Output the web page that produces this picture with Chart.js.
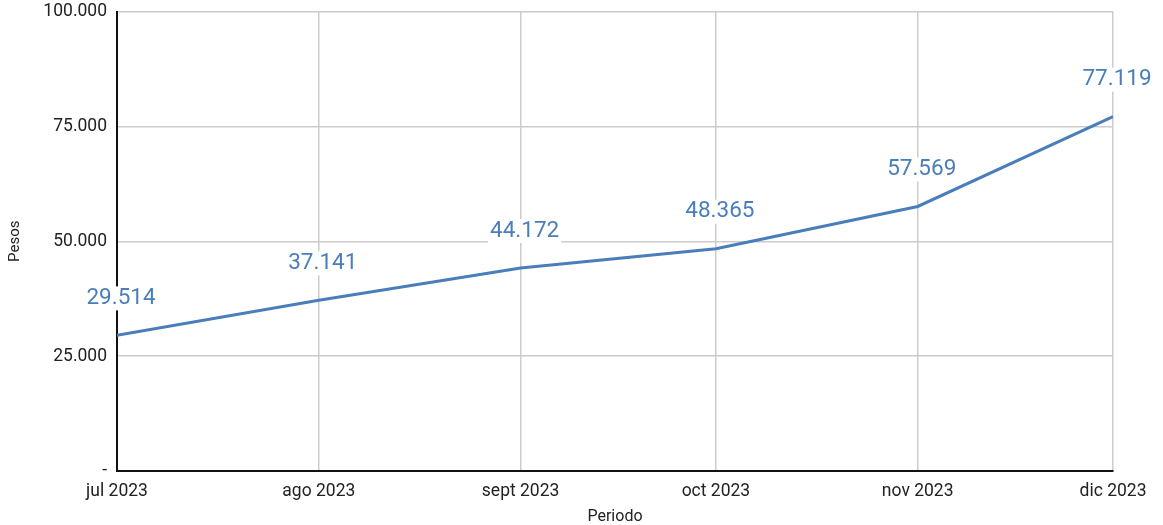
<!DOCTYPE html>
<html>
<head>
<meta charset="utf-8">
<script src="https://cdn.jsdelivr.net/npm/chart.js@4"></script>
<style>
  body { margin: 0; background: #fff; overflow: hidden; }
  #wrap { width: 1163px; height: 525px; position: relative; overflow: hidden; }
  #inner { position: absolute; left: 0; top: -9px; width: 1163px; height: 536px; }
</style>
</head>
<body>
<div id="wrap"><div id="inner"><canvas id="myChart"></canvas></div></div>
<script>
// datos del gráfico
const periodos = ["jul 2023", "ago 2023", "sept 2023", "oct 2023", "nov 2023", "dic 2023"]
const dias = [0, 31, 62, 92, 123, 153]   // días desde 1 jul 2023
const pesos = [29514, 37141, 44172, 48365, 57569, 77119]
const yTicks = [0, 25000, 50000, 75000, 100000]

const azul = "#4a7ebb"

function fmt(v) {
  if (v === 0) return "-"
  return v.toString().replace(/\B(?=(\d{3})+(?!\d))/g, ".")
}

// etiquetas de valor con fondo blanco
const etiquetas = {
  id: "etiquetas",
  afterDatasetsDraw(chart) {
    const ctx = chart.ctx
    const meta = chart.getDatasetMeta(0)
    ctx.save()
    ctx.font = "22.5px Roboto"
    ctx.textAlign = "center"
    ctx.textBaseline = "middle"
    meta.data.forEach((pt, i) => {
      const txt = fmt(pesos[i])
      const w = ctx.measureText(txt).width
      const x = pt.x + 4
      const y = pt.y - 37
      ctx.fillStyle = "#fff"
      ctx.fillRect(x - w / 2 - 2, y - 12, w + 4, 24)
      ctx.fillStyle = azul
      ctx.fillText(txt, x, y)
    })
    ctx.restore()
  }
}

const grafico = new Chart("myChart", {
  type: "line",
  data: {
    datasets: [{
      label: "Pesos",
      data: dias.map((d, i) => ({ x: d, y: pesos[i] })),
      borderColor: azul,
      backgroundColor: azul,
      borderWidth: 3,
      pointRadius: 0,
      tension: 0
    }]
  },
  options: {
    responsive: true,
    maintainAspectRatio: false,
    animation: false,
    layout: { padding: { top: 1, right: 50, left: 0, bottom: 0 } },
    plugins: {
      legend: { display: false },
      tooltip: { enabled: false }
    },
    scales: {
      x: {
        type: "linear",
        min: 0,
        max: 153,
        afterBuildTicks: (s) => { s.ticks = dias.map(d => ({ value: d })) },
        afterFit: (s) => { s.height = 56 },
        ticks: {
          callback: (v) => periodos[dias.indexOf(v)],
          font: { family: "Roboto", size: 17.5 },
          color: "#222",
          padding: 10,
          maxRotation: 0,
          autoSkip: false
        },
        grid: { color: "#ccc", lineWidth: 1.5, drawTicks: false },
        border: { color: "#111", width: 2 },
        title: {
          display: true,
          text: "Periodo",
          font: { family: "Roboto", size: 16 },
          color: "#222",
          padding: { top: 0, bottom: 0 }
        }
      },
      y: {
        min: 0,
        max: 100000,
        afterBuildTicks: (s) => { s.ticks = yTicks.map(v => ({ value: v })) },
        afterFit: (s) => { s.width = 117 },
        ticks: {
          callback: (v) => fmt(v),
          font: { family: "Roboto", size: 17.5 },
          color: "#222",
          padding: 10
        },
        grid: { color: "#ccc", lineWidth: 1.5, drawTicks: false },
        border: { color: "#111", width: 2 },
        title: {
          display: true,
          text: "Pesos",
          font: { family: "Roboto", size: 15 },
          color: "#222",
          padding: { top: 6, bottom: 0 }
        }
      }
    }
  },
  plugins: [etiquetas]
})
</script>
</body>
</html>
